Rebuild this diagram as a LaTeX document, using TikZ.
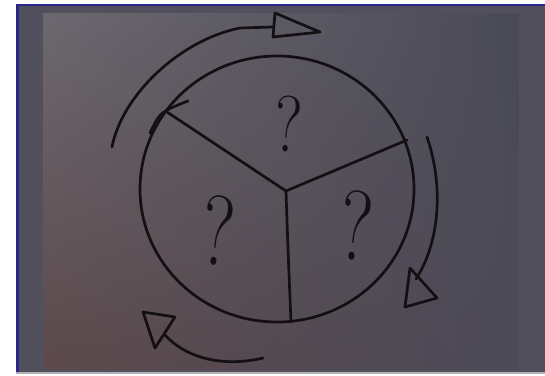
\documentclass[tikz,border=0pt]{standalone}
\usetikzlibrary{shadings}
\definecolor{frameblue}{HTML}{2A2690}
\definecolor{framegray}{HTML}{52505C}
\definecolor{ink}{HTML}{140F12}
\definecolor{pUL}{HTML}{6C686F}
\definecolor{pUR}{HTML}{4A4A57}
\definecolor{pLL}{HTML}{5C494B}
\definecolor{pLR}{HTML}{4B4A57}
\tikzset{
  pen/.style={draw=ink,line width=2.7pt,line cap=round,line join=round},
  qmark/.style={text=ink,inner sep=0pt,font=\fontsize{80}{80}\selectfont}
}
\begin{document}
\begin{tikzpicture}[x=1pt,y=-1pt]
\useasboundingbox (0,0) rectangle (545,375);
\fill[white] (0,0) rectangle (545,375);
% frame
\fill[framegray] (15.5,3.5) rectangle (545,372);
\fill[frameblue] (15.5,3.5) rectangle (545,6);
\fill[frameblue] (15.5,3.5) rectangle (19,372);
\fill[gray!60] (15.5,372) rectangle (545,374);
% photo
\shade[upper left=pUL,upper right=pUR,lower left=pLL,lower right=pLR] (43,13) rectangle (519,369);
% circle and spokes
\draw[pen] (277,189) ellipse [x radius=137,y radius=133];
\coordinate (c) at (286,191);
\coordinate (s1) at (167,112);
\coordinate (s2) at (407,140);
\coordinate (s3) at (291,322);
\draw[pen] (s1) -- (c) -- (s2);
\draw[pen] (c) .. controls (288,250) .. (s3);
\draw[pen] (150,133) .. controls (160,112) .. (188,101);
% question marks
\node[qmark,xscale=0.8,rotate=-5] (q1) at (288,124) {?};
\node[qmark,font=\fontsize{100}{100}\selectfont,xscale=0.75,rotate=-8] (q2) at (218,231) {?};
\node[qmark,font=\fontsize{100}{100}\selectfont,xscale=0.75,rotate=-8] (q3) at (356,226) {?};
% top arrow
\draw[pen] (112,147) .. controls (122,95) and (180,40) .. (240,28) -- (273,27);
\draw[pen] (275,13) -- (273,37) -- (320,32) -- cycle;
% right arrow
\draw[pen] (427,137) .. controls (445,190) and (438,245) .. (416,279);
\draw[pen] (410,268) -- (405,307) -- (437,298) -- cycle;
% bottom arrow
\draw[pen] (263,358) .. controls (230,366) and (190,362) .. (165,335);
\draw[pen] (143,312) -- (175,317) -- (155,348) -- cycle;
\end{tikzpicture}
\end{document}
